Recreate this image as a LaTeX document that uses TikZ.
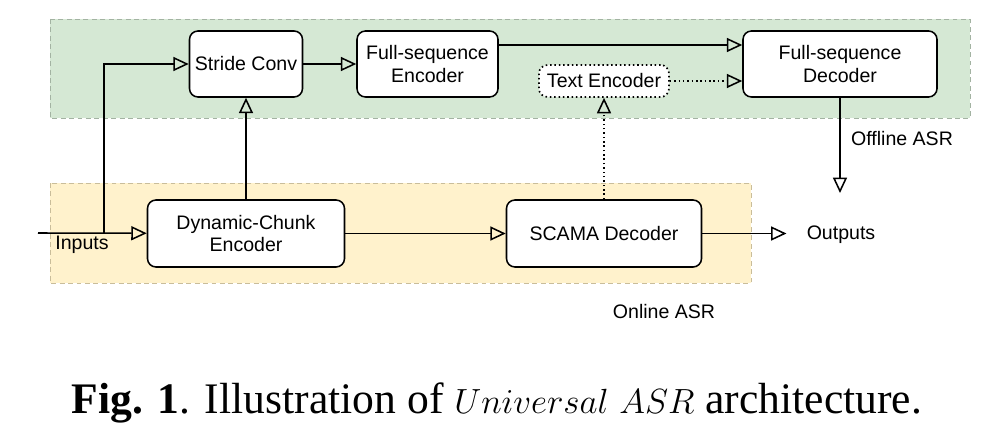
\documentclass[tikz,border=0pt]{standalone}
\usepackage{fontspec}
\setmainfont{Liberation Serif}
\newfontfamily\boxfont{Liberation Sans}
\usepackage{xcolor}
\usetikzlibrary{arrows.meta, calc}
\definecolor{offlinefill}{HTML}{D5E8D4}
\definecolor{offlineline}{HTML}{A3B3A2}
\definecolor{onlinefill}{HTML}{FFF2CC}
\definecolor{onlineline}{HTML}{C9BD9A}
\tikzset{
    >={Triangle[open, length=11pt 0 0, width=10pt 0 0, line width=1.1pt]},
    block/.style={draw, line width=1.1pt, rounded corners=6pt, fill=white, align=center,
        font=\boxfont\fontsize{13.9}{16}\selectfont, inner sep=0pt},
    textblock/.style={block, dotted, line width=1.2pt},
    area/.style={line width=0.7pt, dash pattern=on 3.5pt off 2.5pt},
    offline/.style={area, fill=offlinefill, draw=offlineline},
    online/.style={area, fill=onlinefill, draw=onlineline},
    flow/.style={->, line width=1.1pt},
    hint/.style={flow, dotted, line width=1.2pt},
    tag/.style={font=\boxfont\fontsize{13.9}{16}\selectfont, inner sep=0pt},
}

\begin{document}
\begin{tikzpicture}[x=0.025cm, y=-0.025cm]
        % the two regions
        \fill[white] (0,0) rectangle (1008,440);
        \draw[offline] (50,19) rectangle (970,118);
        \draw[online] (50,183) rectangle (751,283);
        % blocks
        \node[block, minimum width=113*0.025cm, minimum height=66*0.025cm] (stride) at (246,64) {Stride Conv};
        \node[block, minimum width=141*0.025cm, minimum height=66*0.025cm] (fenc) at (427.5,64) {Full-sequence\\Encoder};
        \node[textblock, minimum width=130*0.025cm, minimum height=32*0.025cm] (tenc) at (604,81) {Text Encoder};
        \node[block, minimum width=194*0.025cm, minimum height=66*0.025cm] (fdec) at (840,64) {Full-sequence\\Decoder};
        \node[block, minimum width=197*0.025cm, minimum height=67*0.025cm] (dyn) at (246,233.5) {Dynamic-Chunk\\Encoder};
        \node[block, minimum width=195*0.025cm, minimum height=67*0.025cm] (scama) at (604,233.5) {SCAMA Decoder};
        % free labels
        \node[tag, inner xsep=0.5cm] (out) at (841,235) {Outputs};
        \node[tag] (inp) at (82,245) {Inputs};
        \node[tag] (offl) at (902,139) {Offline ASR};
        \node[tag] (onl) at (664,312) {Online ASR};
        \coordinate (in) at (38,233);
        \coordinate (split) at (104,233);
        \coordinate (offend) at (840,193);
        % connectors
        \draw[flow] (in) -- (dyn);
        \draw[flow] (split) |- (stride);
        \draw[flow] (stride) -- (fenc);
        \draw[flow] (dyn) -- (stride);
        \draw[flow] ([yshift=0.475cm]fenc.east) -- ([yshift=0.475cm]fdec.west);
        \draw[hint] (tenc) -- (tenc -| fdec.west);
        \draw[hint] (scama) -- (tenc);
        \draw[flow] (dyn) -- (scama);
        \draw[flow] (scama) -- (scama -| out.west);
        \draw[flow] (fdec) -- (offend);
        % caption
        \node[font=\fontsize{31}{35}\selectfont, inner sep=0pt] (cap) at (497,403)
            {\textbf{Fig. 1}. Illustration of $Universal\ ASR$ architecture.};
        \useasboundingbox (0,0) rectangle (1008,440);
\end{tikzpicture}
\end{document}
